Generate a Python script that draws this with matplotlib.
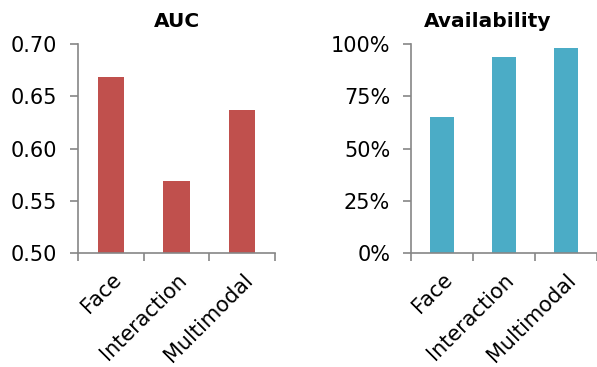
import matplotlib.pyplot as plt
from matplotlib.ticker import FuncFormatter

categories = ["Face", "Interaction", "Multimodal"]
auc = [0.668, 0.569, 0.637]
availability = [0.65, 0.94, 0.98]

auc_ticks = [0.50, 0.55, 0.60, 0.65, 0.70]
avail_ticks = [0.0, 0.25, 0.50, 0.75, 1.0]

plt.rcParams['font.family'] = ['Verdana', 'DejaVu Sans']
axis_gray = "#868686"

fig = plt.figure(figsize=(5.97, 3.67), dpi=100)
ax1 = fig.add_axes([0.1307, 0.3106, 0.33, 0.5695])
ax2 = fig.add_axes([0.6884, 0.3106, 0.3116, 0.5695])


def style_axis(ax):
    for side in ("top", "right"):
        ax.spines[side].set_visible(False)
    for side in ("left", "bottom"):
        ax.spines[side].set_color(axis_gray)
        ax.spines[side].set_linewidth(1.2)
    ax.set_xlim(-0.5, 2.5)
    ax.set_xticks(range(len(categories)))
    ax.set_xticklabels(categories, rotation=45, ha="right", rotation_mode="anchor",
                       fontsize=15)
    ax.set_xticks([-0.5, 0.5, 1.5, 2.5], minor=True)
    ax.tick_params(axis="x", which="major", length=0, pad=12)
    ax.tick_params(axis="x", which="minor", length=6, width=1.2, color=axis_gray)
    ax.tick_params(axis="y", length=6, width=1.2, color=axis_gray,
                   labelsize=15, pad=9)


ax1.bar(range(len(categories)), auc, width=0.4, color="#C0504D")
ax1.set_ylim(0.50, 0.70)
ax1.set_yticks(auc_ticks)
ax1.yaxis.set_major_formatter(FuncFormatter(lambda v, p: f"{v:.2f}"))
style_axis(ax1)
ax1.set_title("AUC", fontsize=14.5, fontweight="bold", pad=12)

ax2.bar(range(len(categories)), availability, width=0.4, color="#4BACC6")
ax2.set_ylim(0.0, 1.0)
ax2.set_yticks(avail_ticks)
ax2.yaxis.set_major_formatter(FuncFormatter(lambda v, p: f"{v * 100:.0f}%"))
style_axis(ax2)
ax2.set_title("Availability", fontsize=14.5, fontweight="bold", pad=12, x=0.41)

fig.savefig("out.png", dpi=100)
